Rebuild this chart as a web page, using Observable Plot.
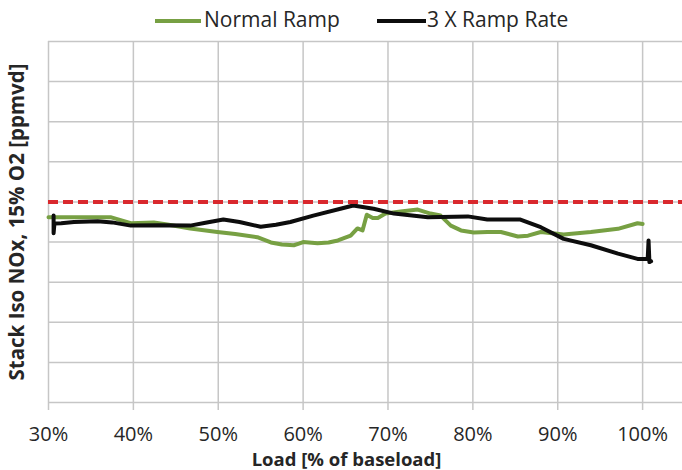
<!DOCTYPE html>
<html>
<head>
<meta charset="utf-8">
<script src="https://cdn.jsdelivr.net/npm/d3@7"></script>
<script src="https://cdn.jsdelivr.net/npm/@observablehq/plot@0.6"></script>
<style>
  html, body { margin: 0; padding: 0; background: #fff; }
  #wrap { position: relative; width: 682px; height: 470px; overflow: hidden; font-family: "Open Sans", sans-serif; }
  #legend { position: absolute; left: 0; top: 0; width: 682px; height: 40px; font-size: 21px; color: #262626; }
  .sw { position: absolute; height: 4px; top: 19px; }
  .lt { position: absolute; top: 9px; line-height: 21px; white-space: nowrap; }
</style>
</head>
<body>
<div id="wrap">
  <div id="chart"></div>
  <div id="legend"></div>
</div>
<script>
// ---- data ----
const seriesNames = ["Normal Ramp", "3 X Ramp Rate"];
const seriesColors = ["#77a043", "#0d0d0d"];

const normalLoad = [30, 33, 37.3, 39.7, 42.4, 44, 46.7, 49.9, 52, 54.6, 56.2, 57.5, 58.9, 59.5, 60, 61.7, 63, 64.1, 65.6, 66.4, 67.0, 67.5, 68.2, 68.8, 69.7, 71.5, 73.5, 75.0, 76.2, 77.4, 78.6, 80.1, 81.7, 83.3, 85.3, 86.5, 88, 90.7, 93.9, 97.1, 99.4, 100];
const normalNOx  = [4.62, 4.62, 4.62, 4.47, 4.49, 4.44, 4.34, 4.25, 4.2, 4.12, 3.99, 3.94, 3.92, 3.96, 4.0, 3.97, 3.99, 4.04, 4.16, 4.34, 4.29, 4.68, 4.60, 4.60, 4.71, 4.76, 4.81, 4.71, 4.66, 4.41, 4.29, 4.24, 4.25, 4.25, 4.14, 4.16, 4.25, 4.19, 4.25, 4.33, 4.47, 4.45];

const fastLoad = [30.6, 30.6, 30.7, 31.5, 33, 35.8, 37.5, 39.7, 43, 46.7, 48.5, 50.6, 52.5, 55.0, 56.8, 58.5, 61.2, 64.4, 65.9, 68.3, 70.7, 74.7, 79.4, 81.7, 85.6, 88.0, 90.7, 93.9, 97.1, 99.4, 100.6, 100.7, 100.8, 101.0];
const fastNOx  = [4.66, 4.22, 4.46, 4.47, 4.50, 4.52, 4.49, 4.41, 4.42, 4.41, 4.48, 4.56, 4.50, 4.38, 4.43, 4.50, 4.66, 4.83, 4.91, 4.83, 4.71, 4.62, 4.64, 4.56, 4.56, 4.37, 4.08, 3.92, 3.71, 3.58, 3.58, 4.04, 3.50, 3.52];

const limitNOx = [5];
const xTicks = [30, 40, 50, 60, 70, 80, 90, 100];
const yGrid = [0, 1, 2, 3, 4, 5, 6, 7, 8, 9];
const xTitle = "Load [% of baseload]";
const yTitle = "Stack Iso NOx, 15% O2 [ppmvd]";

const normal = normalLoad.map((x, i) => ({x, y: normalNOx[i]}));
const fast = fastLoad.map((x, i) => ({x, y: fastNOx[i]}));

const grid = "#c6c6c6";
const chart = Plot.plot({
  width: 682,
  height: 470,
  marginLeft: 48,
  marginRight: 0,
  marginTop: 41,
  marginBottom: 68,
  style: {fontFamily: "'Open Sans', sans-serif", fontSize: "20px", color: "#262626", background: "#fff", overflow: "visible"},
  x: {domain: [30, 104.7]},
  y: {domain: [0, 9], axis: null},
  marks: [
    Plot.gridY(yGrid, {stroke: grid, strokeOpacity: 1, strokeWidth: 1.5}),
    Plot.gridX(xTicks, {stroke: grid, strokeOpacity: 1, strokeWidth: 1.5}),
    Plot.axisX(xTicks, {tickSize: 8, tickPadding: 16, stroke: grid, strokeWidth: 1.5, tickFormat: d => d + "%", label: null, fill: "#262626"}),
    Plot.line(normal, {x: "x", y: "y", stroke: seriesColors[0], strokeWidth: 4, strokeLinejoin: "round", strokeLinecap: "round"}),
    Plot.line(fast, {x: "x", y: "y", stroke: seriesColors[1], strokeWidth: 4, strokeLinejoin: "round", strokeLinecap: "round"}),
    Plot.ruleY(limitNOx, {stroke: "#d9282d", strokeWidth: 4, strokeDasharray: "10,5"}),
    Plot.text([xTitle], {frameAnchor: "bottom", lineAnchor: "bottom", textAnchor: "middle", dy: 63, dx: -19, fontWeight: "bold", fontSize: 18.5, fill: "#262626"}),
    Plot.text([yTitle], {frameAnchor: "left", rotate: -90, lineAnchor: "middle", textAnchor: "middle", dx: -31, fontWeight: "bold", fontSize: 20.5, fill: "#262626"})
  ]
});
document.getElementById("chart").append(chart);

// legend
const legend = document.getElementById("legend");
const items = [
  {sx: 155, sw: 46, tx: 204},
  {sx: 377, sw: 49, tx: 427}
];
seriesNames.forEach((name, i) => {
  const s = document.createElement("div");
  s.className = "sw";
  s.style.left = items[i].sx + "px";
  s.style.width = items[i].sw + "px";
  s.style.background = seriesColors[i];
  legend.append(s);
  const t = document.createElement("div");
  t.className = "lt";
  t.style.left = items[i].tx + "px";
  t.textContent = name;
  legend.append(t);
});
</script>
</body>
</html>
